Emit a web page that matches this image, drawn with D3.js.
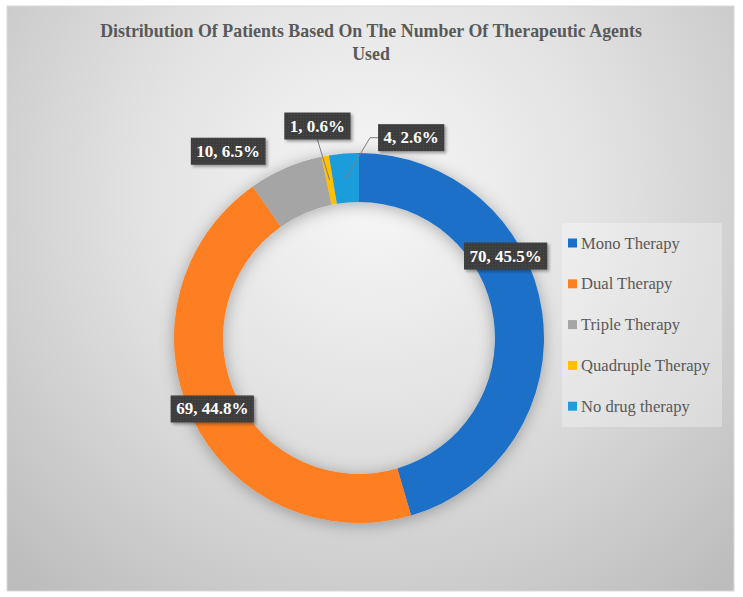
<!DOCTYPE html>
<html>
<head>
<meta charset="utf-8">
<script src="https://cdn.jsdelivr.net/npm/d3@7"></script>
<style>
  html, body { margin: 0; padding: 0; background: #ffffff; }
  svg { display: block; }
</style>
</head>
<body>
<svg id="chart" width="743" height="597"></svg>
<script>
// ---- data ----
const categories = ["Mono Therapy", "Dual Therapy", "Triple Therapy", "Quadruple Therapy", "No drug therapy"];
const values = [70, 69, 10, 1, 4];
const percentLabels = ["45.5%", "44.8%", "6.5%", "0.6%", "2.6%"];
const colors = ["#1a70c8", "#fd7f23", "#a5a5a5", "#ffc000", "#1f9ddb"];
const titleLines = ["Distribution Of Patients Based On The Number Of Therapeutic Agents", "Used"];

// ---- layout (label placement: polar angle in degrees from 12 o'clock, radius px) ----
const labelLayout = [
  { angle: 60.8, r: 168, leader: false },
  { angle: 244.2, r: 163, leader: false },
  { angle: 325, r: 228, leader: false },
  { angle: 348.9, r: 216, leader: "bottom" },
  { angle: 14.6, r: 207, leader: "left" }
];

const W = 743, H = 597;
const frame = { x: 7, y: 6, w: 727, h: 585 };
const cx = 359, cy = 338, rOuter = 185, rInner = 136;

const svg = d3.select("#chart");
const defs = svg.append("defs");

// background gradient
const bg = defs.append("radialGradient").attr("id", "bgGrad")
  .attr("gradientUnits", "userSpaceOnUse")
  .attr("cx", 372).attr("cy", 190).attr("r", 520)
  .attr("fx", 372).attr("fy", 190);
bg.append("stop").attr("offset", "0%").attr("stop-color", "#f7f7f7");
bg.append("stop").attr("offset", "45%").attr("stop-color", "#e2e2e2");
bg.append("stop").attr("offset", "100%").attr("stop-color", "#bdbdbd");

// ring shadow
const sh = defs.append("filter").attr("id", "ringShadow")
  .attr("x", "-20%").attr("y", "-20%").attr("width", "140%").attr("height", "140%");
sh.append("feDropShadow").attr("dx", 0).attr("dy", 2).attr("stdDeviation", 8)
  .attr("flood-color", "#000").attr("flood-opacity", 0.3);

const bsh = defs.append("filter").attr("id", "boxShadow")
  .attr("x", "-20%").attr("y", "-30%").attr("width", "150%").attr("height", "170%");
bsh.append("feDropShadow").attr("dx", 2).attr("dy", 2).attr("stdDeviation", 1.5)
  .attr("flood-color", "#000").attr("flood-opacity", 0.35);

// dotted pattern for label boxes
const pat = defs.append("pattern").attr("id", "dots")
  .attr("patternUnits", "userSpaceOnUse").attr("width", 3).attr("height", 3);
pat.append("rect").attr("width", 3).attr("height", 3).attr("fill", "#3c3c3c");
pat.append("rect").attr("x", 1).attr("y", 1).attr("width", 1).attr("height", 1).attr("fill", "#4e4e4e");

// frame
svg.append("rect")
  .attr("x", frame.x).attr("y", frame.y).attr("width", frame.w).attr("height", frame.h)
  .attr("fill", "url(#bgGrad)").attr("stroke", "#d9d9d9").attr("stroke-width", 1);

// title
const title = svg.append("text")
  .attr("text-anchor", "middle")
  .attr("font-family", "'Liberation Serif', 'DejaVu Serif', serif")
  .attr("font-weight", "bold")
  .attr("font-size", 16)
  .attr("fill", "#595959");
titleLines.forEach((t, i) => {
  title.append("tspan").attr("x", 371).attr("y", 37 + i * 23).text(t);
});
const firstSpan = title.select("tspan").node();
const len = firstSpan.getComputedTextLength();
const fs = 16 * 542 / len;
title.attr("font-size", Math.min(fs, 18));

// donut
const pie = d3.pie().value(d => d).sort(null);
const arcs = pie(values);
const arc = d3.arc().innerRadius(rInner).outerRadius(rOuter);

const g = svg.append("g").attr("transform", `translate(${cx},${cy})`);
g.append("g").attr("filter", "url(#ringShadow)")
  .selectAll("path").data(arcs).join("path")
  .attr("d", arc)
  .attr("fill", (d, i) => colors[i]);

// labels
const labelG = g.append("g");
arcs.forEach((d, i) => {
  const L = labelLayout[i];
  const a = L.angle * Math.PI / 180;
  const lx = L.r * Math.sin(a), ly = -L.r * Math.cos(a);
  const txt = `${values[i]}, ${percentLabels[i]}`;
  const grp = labelG.append("g");
  const t = grp.append("text")
    .attr("x", lx).attr("y", ly)
    .attr("text-anchor", "middle").attr("dominant-baseline", "central")
    .attr("font-family", "'Liberation Serif', 'DejaVu Serif', serif")
    .attr("font-weight", "bold").attr("font-size", 17)
    .attr("fill", "#ffffff").text(txt);
  const bb = t.node().getBBox();
  const bw = bb.width + 11, bh = 27;
  const bx = lx - bw / 2, by = ly - bh / 2;
  grp.insert("rect", "text")
    .attr("x", bx).attr("y", by).attr("width", bw).attr("height", bh)
    .attr("fill", "url(#dots)").attr("filter", "url(#boxShadow)");
  if (L.leader) {
    const c = arc.centroid(d);
    let pts;
    if (L.leader === "bottom") {
      pts = [[lx, by + bh], c];
    } else {
      pts = [[bx, ly], [bx - 8, ly], c];
    }
    labelG.insert("path", ":first-child")
      .attr("d", d3.line()(pts))
      .attr("fill", "none").attr("stroke", "#7f7f7f").attr("stroke-width", 1);
  }
});

// legend
const legend = svg.append("g");
legend.append("rect")
  .attr("x", 562).attr("y", 223).attr("width", 160).attr("height", 204)
  .attr("fill", "#ffffff").attr("fill-opacity", 0.3);
const ly0 = 243, lstep = 40.8;
categories.forEach((c, i) => {
  const y = ly0 + i * lstep;
  legend.append("rect").attr("x", 568).attr("y", y - 4.5).attr("width", 9).attr("height", 9)
    .attr("fill", colors[i]);
  legend.append("text").attr("x", 581).attr("y", y)
    .attr("dominant-baseline", "central")
    .attr("font-family", "'Liberation Serif', 'DejaVu Serif', serif")
    .attr("font-size", 16.6).attr("fill", "#595959").text(c);
});
</script>
</body>
</html>
